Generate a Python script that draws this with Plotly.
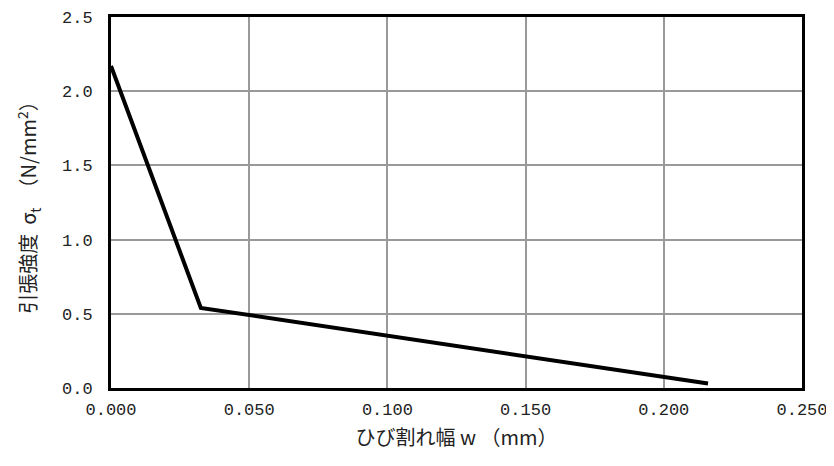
import plotly.graph_objects as go

crack_width = [0.0, 0.0325, 0.216]
tensile_strength = [2.17, 0.54, 0.03]

x_ticks = [0.0, 0.05, 0.10, 0.15, 0.20, 0.25]
x_tick_labels = ["0.000", "0.050", "0.100", "0.150", "0.200", "0.250"]
y_ticks = [0.0, 0.5, 1.0, 1.5, 2.0, 2.5]
y_tick_labels = ["0.0", "0.5", "1.0", "1.5", "2.0", "2.5"]

fig = go.Figure()
fig.add_trace(go.Scatter(x=crack_width, y=tensile_strength, mode="lines",
                         line=dict(color="black", width=4), showlegend=False))

tick_font = dict(family="Liberation Mono, Noto Sans CJK JP", size=17, color="#222")
title_font = dict(family="Noto Sans CJK JP", size=20, color="#222")

fig.update_layout(
    width=826, height=458,
    margin=dict(l=103, r=32, t=9, b=78),
    paper_bgcolor="white", plot_bgcolor="white",
    xaxis=dict(range=[0, 0.25], tickvals=x_ticks, ticktext=x_tick_labels,
               showgrid=True, gridcolor="#999", gridwidth=1.5,
               showline=True, linecolor="black", linewidth=3, mirror=True,
               zeroline=False, ticks="outside", ticklen=4, tickcolor="rgba(0,0,0,0)",
               tickfont=tick_font, automargin=False,
               title=dict(text="ひび割れ幅 w （mm）", font=title_font, standoff=12)),
    yaxis=dict(range=[0, 2.5], tickvals=y_ticks, ticktext=y_tick_labels,
               showgrid=True, gridcolor="#999", gridwidth=1.5,
               showline=True, linecolor="black", linewidth=3, mirror=True,
               zeroline=False, ticks="outside", ticklen=12, tickcolor="rgba(0,0,0,0)",
               tickfont=tick_font, automargin=False,
               title=dict(text="引張強度  σ<sub>t</sub>  （N/mm<sup>2</sup>）", font=title_font, standoff=20)),
)

fig.write_html("out.html")
